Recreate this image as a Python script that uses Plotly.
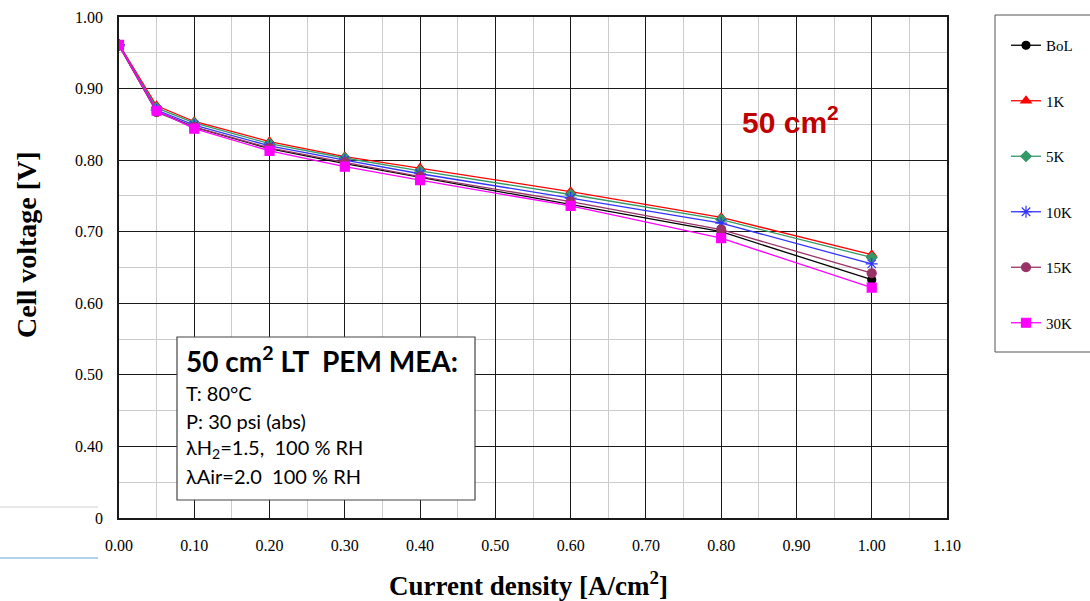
import plotly.graph_objects as go

# ---- data ----
current_density = [0.0, 0.05, 0.10, 0.20, 0.30, 0.40, 0.60, 0.80, 1.00]
v_bol = [0.960, 0.868, 0.846, 0.816, 0.795, 0.776, 0.739, 0.700, 0.633]
v_1k = [0.962, 0.876, 0.854, 0.826, 0.805, 0.789, 0.756, 0.720, 0.668]
v_5k = [0.961, 0.873, 0.852, 0.823, 0.803, 0.785, 0.752, 0.717, 0.664]
v_10k = [0.961, 0.870, 0.849, 0.820, 0.800, 0.781, 0.747, 0.712, 0.655]
v_15k = [0.960, 0.867, 0.846, 0.817, 0.797, 0.777, 0.742, 0.703, 0.642]
v_30k = [0.961, 0.869, 0.844, 0.813, 0.791, 0.772, 0.736, 0.691, 0.622]
series_names = ["BoL", "1K", "5K", "10K", "15K", "30K"]
y_tickvals = [0.3, 0.4, 0.5, 0.6, 0.7, 0.8, 0.9, 1.0]
y_ticktext = ["0", "0.40", "0.50", "0.60", "0.70", "0.80", "0.90", "1.00"]
x_tickvals = [0.0, 0.1, 0.2, 0.3, 0.4, 0.5, 0.6, 0.7, 0.8, 0.9, 1.0, 1.1]
x_ticktext = ["0.00", "0.10", "0.20", "0.30", "0.40", "0.50", "0.60", "0.70", "0.80", "0.90", "1.00", "1.10"]

styles = [
    dict(color="#000000", symbol="circle", size=8),
    dict(color="#ff0000", symbol="triangle-up", size=9),
    dict(color="#339966", symbol="diamond", size=8),
    dict(color="#3333ff", symbol="asterisk-open", size=10),
    dict(color="#993366", symbol="circle", size=9),
    dict(color="#ff00ff", symbol="square", size=9),
]
values = [v_bol, v_1k, v_5k, v_10k, v_15k, v_30k]

W, H = 1090, 601
L, R, T, B = 119, 947, 17, 518


def px(x):
    return (x - L) / (R - L)


def py(y):
    return (B - y) / (B - T)


fig = go.Figure()
for name, vals, st in zip(series_names, values, styles):
    fig.add_trace(go.Scatter(
        x=current_density, y=vals, name=name, mode="lines+markers",
        legendgroup=name,
        line=dict(color=st["color"], width=1.3),
        marker=dict(color=st["color"], symbol=st["symbol"], size=st["size"],
                    line=dict(color=st["color"], width=1.2)),
    ))

serif = "Liberation Serif"
sans = "Lato"

fig.update_layout(
    width=W, height=H,
    margin=dict(l=L, r=W - R, t=T, b=H - B, autoexpand=False),
    paper_bgcolor="white", plot_bgcolor="white",
    showlegend=True,
    legend=dict(
        x=px(1006), y=py(29), xanchor="left", yanchor="top",
        bgcolor="rgba(0,0,0,0)", borderwidth=0,
        font=dict(family=serif, size=15, color="#000"),
        tracegroupgap=33, itemwidth=30,
    ),
    xaxis=dict(
        range=[0, 1.1], tickvals=x_tickvals, ticktext=x_ticktext,
        showgrid=True, gridcolor="#1a1a1a", gridwidth=1,
        minor=dict(dtick=0.05, tick0=0, showgrid=True, gridcolor="#cccccc", gridwidth=1),
        showline=True, linecolor="#1a1a1a", linewidth=1.5, mirror=True,
        ticks="", ticklabelstandoff=12,
        tickfont=dict(family=serif, size=16, color="#000"),
        zeroline=False,
    ),
    yaxis=dict(
        range=[0.3, 1.0], tickvals=y_tickvals, ticktext=y_ticktext,
        showgrid=True, gridcolor="#1a1a1a", gridwidth=1,
        minor=dict(dtick=0.05, tick0=0.3, showgrid=True, gridcolor="#cccccc", gridwidth=1),
        showline=True, linecolor="#1a1a1a", linewidth=1.5, mirror=True,
        ticks="", ticklabelstandoff=11,
        tickfont=dict(family=serif, size=16, color="#000"),
        zeroline=False,
    ),
)

shapes = [
    # legend frame
    dict(type="rect", xref="paper", yref="paper", x0=px(995), x1=px(1092), y0=py(352), y1=py(15),
         line=dict(color="#555555", width=1), fillcolor="rgba(0,0,0,0)", layer="above"),
    # info box
    dict(type="rect", xref="paper", yref="paper", x0=px(177), x1=px(475), y0=py(500), y1=py(337),
         line=dict(color="#444444", width=1.2), fillcolor="white", layer="above"),
    # stray lines bottom-left
    dict(type="line", xref="paper", yref="paper", x0=px(0), x1=px(98), y0=py(507), y1=py(507),
         line=dict(color="#d0d0d0", width=1)),
    dict(type="line", xref="paper", yref="paper", x0=px(0), x1=px(98), y0=py(558), y1=py(558),
         line=dict(color="#9cc3e6", width=1.5)),
]
fig.update_layout(shapes=shapes)

ann = [
    dict(text="<b>Cell voltage [V]</b>", x=px(26), y=py(245), textangle=-90,
         font=dict(family=serif, size=28, color="#000")),
    dict(text="<b>Current density [A/cm<sup>2</sup>]</b>", x=px(528), y=py(584),
         font=dict(family=serif, size=27, color="#000")),
    dict(text="<b>50 cm<sup>2</sup></b>", x=px(790), y=py(120),
         font=dict(family="Liberation Sans", size=30, color="#c00000")),
]
box_lines = [
    ("<b>50 cm<sup>2</sup> LT  PEM MEA:</b>", 28, 359),
    ("T: 80°C", 20, 393),
    ("P: 30 psi (abs)", 20, 421),
    ("λH<sub>2</sub>=1.5,  100 % RH", 20, 448),
    ("λAir=2.0  100 % RH", 20, 476),
]
for txt, size, yy in box_lines:
    ann.append(dict(text=txt, x=px(184), y=py(yy), xanchor="left",
                    font=dict(family=sans, size=size, color="#000")))

for a in ann:
    a.setdefault("xref", "paper")
    a.setdefault("yref", "paper")
    a.setdefault("showarrow", False)
    a.setdefault("xanchor", "center")
    a.setdefault("yanchor", "middle")
fig.update_layout(annotations=ann)

fig.write_html("out.html", config={"displayModeBar": False},
               post_script="document.body.style.margin='0';document.body.style.overflow='hidden';")
